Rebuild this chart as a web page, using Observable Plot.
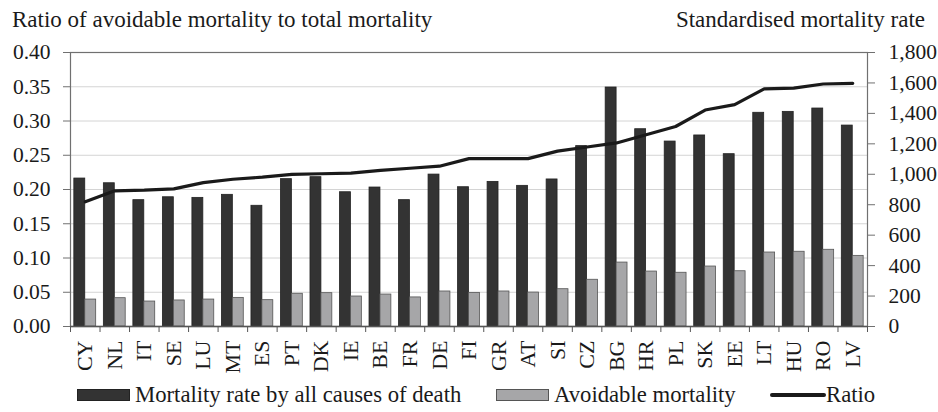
<!DOCTYPE html>
<html>
<head>
<meta charset="utf-8">
<script src="https://cdn.jsdelivr.net/npm/d3@7"></script>
<script src="https://cdn.jsdelivr.net/npm/@observablehq/plot@0.6"></script>
<style>
  html, body { margin: 0; padding: 0; background: #fff; }
  #wrap { width: 938px; height: 412px; position: relative; font-family: 'Liberation Serif', serif; color: #1a1a1a; overflow: hidden; }
  #titles { height: 40px; position: relative; font-size: 23px; }
  #tl { position: absolute; left: 12px; top: 7px; line-height: 26px; }
  #tr { position: absolute; right: 13px; top: 7px; line-height: 26px; }
  #legend { height: 32px; position: relative; font-size: 22.7px; }
  .li { position: absolute; top: 2px; height: 26px; line-height: 26px; display: flex; align-items: center; white-space: nowrap; }
  .sw { display: inline-block; width: 53px; height: 12px; margin-right: 5px; box-sizing: border-box; }
  .ln { display: inline-block; width: 56px; height: 4px; background: #1a1a1a; border-radius: 2px; margin-right: 0px; }
</style>
</head>
<body>
<div id="wrap">
  <div id="titles">
    <div id="tl">Ratio of avoidable mortality to total mortality</div>
    <div id="tr">Standardised mortality rate</div>
  </div>
  <div id="chart"></div>
  <div id="legend">
    <div class="li" style="left:77px"><span class="sw" style="background:#333;border:1px solid #222"></span>Mortality rate by all causes of death</div>
    <div class="li" style="left:496px"><span class="sw" style="background:#a6a6a8;border:1px solid #555"></span>Avoidable mortality</div>
    <div class="li" style="left:770px"><span class="ln"></span>Ratio</div>
  </div>
</div>
<script>
const countries = ["CY","NL","IT","SE","LU","MT","ES","PT","DK","IE","BE","FR","DE","FI","GR","AT","SI","CZ","BG","HR","PL","SK","EE","LT","HU","RO","LV"];
const totalMortality = [972, 941, 830, 849, 845, 865, 793, 968, 981, 882, 913, 830, 998, 915, 950, 924, 966, 1185, 1570, 1296, 1215, 1255, 1132, 1404, 1410, 1432, 1320];
const avoidableMortality = [177, 186, 164, 171, 177, 188, 173, 215, 219, 197, 210, 191, 230, 221, 230, 223, 245, 307, 420, 361, 353, 394, 363, 486, 491, 504, 464];
const ratio = [0.182, 0.198, 0.199, 0.201, 0.210, 0.215, 0.218, 0.222, 0.223, 0.224, 0.228, 0.231, 0.234, 0.245, 0.245, 0.245, 0.256, 0.262, 0.268, 0.280, 0.292, 0.316, 0.324, 0.347, 0.348, 0.354, 0.355];
const leftTicks = [0, 0.05, 0.10, 0.15, 0.20, 0.25, 0.30, 0.35, 0.40];
const rightTicks = [0, 200, 400, 600, 800, 1000, 1200, 1400, 1600, 1800];

const RMAX = 1800, LMAX = 0.4;
const toLeft = v => v * LMAX / RMAX;

const rows = countries.map((c, i) => ({
  country: c,
  total: totalMortality[i],
  avoidable: avoidableMortality[i],
  ratio: ratio[i]
}));

const W = 938, H = 340, mL = 70, mR = 71, mT = 12, mB = 54;
const PI = 0.26, PO = 0.13;
const step = (W - mL - mR) / countries.length;
const half = step * (1 - PI) / 2;
const font = "'Liberation Serif', serif";

const chart = Plot.plot({
  width: W, height: H,
  marginLeft: mL, marginRight: mR, marginTop: mT, marginBottom: mB,
  style: { fontFamily: font, fontSize: "21.5px", color: "#1a1a1a", background: "#fff" },
  x: { domain: countries, paddingInner: PI, paddingOuter: PO, round: false, axis: null },
  y: { domain: [0, LMAX], axis: null },
  marks: [
    Plot.ruleY(leftTicks.slice(1, -1), { stroke: "#d4d4d4", strokeWidth: 1 }),
    Plot.barY(rows, { x: "country", y: d => toLeft(d.total), insetRight: half, fill: "#333333", stroke: "#222", strokeWidth: 0.8 }),
    Plot.barY(rows, { x: "country", y: d => toLeft(d.avoidable), insetLeft: half, fill: "#a6a6a8", stroke: "#555", strokeWidth: 0.8 }),
    Plot.line(rows, { x: "country", y: "ratio", stroke: "#1a1a1a", strokeWidth: 3.2, strokeLinejoin: "round", strokeLinecap: "round" }),
    Plot.frame({ stroke: "#707070", strokeWidth: 1.2 }),
    Plot.ruleY([0], { stroke: "#555", strokeWidth: 1.5 }),
    Plot.axisY({ ticks: leftTicks, anchor: "left", tickSize: 7, tickPadding: 13, tickFormat: d3.format(".2f"), label: null, stroke: "#707070", fontSize: 21.5, fill: "#1a1a1a" }),
    Plot.axisY({ ticks: rightTicks.map(toLeft), anchor: "right", tickSize: 7, tickPadding: 14, tickFormat: d => d3.format(",")(Math.round(d * RMAX / LMAX)), label: null, stroke: "#707070", fontSize: 21.5, fill: "#1a1a1a" }),
    Plot.axisX({ anchor: "bottom", tickSize: 6, tickFormat: () => "", dx: -step / 2, stroke: "#555", label: null }),
    Plot.ruleX([countries[countries.length - 1]], { x: d => d, y1: 0, y2: 0, dx: step / 2, insetBottom: -6, stroke: "#555" }),
    Plot.text(countries, { x: d => d, y: 0, text: d => d, rotate: -90, textAnchor: "end", lineAnchor: "middle", dy: 14, fontSize: 22, fill: "#1a1a1a" })
  ]
});
document.getElementById("chart").appendChild(chart);
</script>
</body>
</html>
